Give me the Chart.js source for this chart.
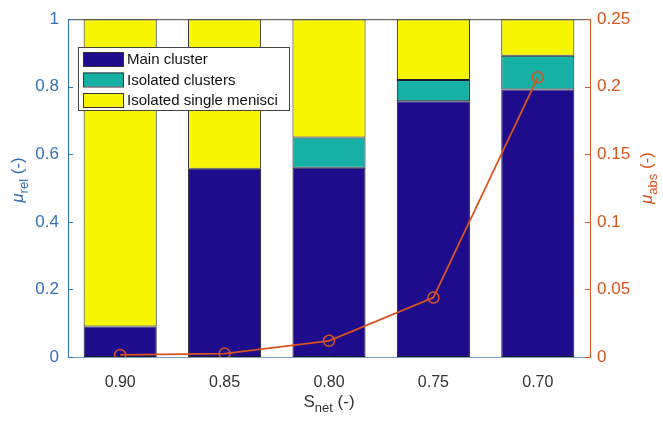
<!DOCTYPE html>
<html>
<head>
<meta charset="utf-8">
<script src="https://cdn.jsdelivr.net/npm/chart.js@4/dist/chart.umd.min.js"></script>
<style>
  html, body { margin: 0; padding: 0; background: #fff; }
  #wrap { width: 663px; height: 422px; }
</style>
</head>
<body>
<div id="wrap"><canvas id="chart" width="663" height="422"></canvas></div>
<script>
// data
const categories = ['0.90', '0.85', '0.80', '0.75', '0.70'];
const mainCluster = [0.09, 0.557, 0.56, 0.757, 0.792];
const isolatedClusters = [0, 0, 0.09, 0.063, 0.10];
const singleMenisci = [0.91, 0.443, 0.35, 0.18, 0.108];
const muAbs = [0.0015, 0.0025, 0.012, 0.044, 0.207];
const seriesNames = ['Main cluster', 'Isolated clusters', 'Isolated single menisci'];

const blueAxis = '#3470b6';
const redAxis = '#d9531e';
const font = 'Liberation Sans, Arial, sans-serif';

// axis titles, inward ticks, top frame and legend drawn on the canvas
const extras = {
  id: 'extras',
  afterDatasetsDraw(chart) {
    const ctx = chart.ctx;
    const a = chart.chartArea;
    const y = chart.scales.y, y2 = chart.scales.y2;
    ctx.save();
    // top frame
    ctx.strokeStyle = '#444';
    ctx.lineWidth = 1;
    ctx.beginPath();
    ctx.moveTo(a.left, a.top + 0.5);
    ctx.lineTo(a.right, a.top + 0.5);
    ctx.stroke();
    // inward ticks
    ctx.strokeStyle = blueAxis;
    y.ticks.forEach(t => {
      const p = Math.round(y.getPixelForValue(t.value)) + 0.5;
      ctx.beginPath(); ctx.moveTo(a.left, p); ctx.lineTo(a.left + 5, p); ctx.stroke();
    });
    ctx.strokeStyle = redAxis;
    y2.ticks.forEach(t => {
      const p = Math.round(y2.getPixelForValue(t.value)) + 0.5;
      ctx.beginPath(); ctx.moveTo(a.right, p); ctx.lineTo(a.right - 5, p); ctx.stroke();
    });

    // legend
    const lx = 78, ly = 47, lw = 211, lh = 63;
    ctx.fillStyle = '#fff';
    ctx.fillRect(lx, ly, lw, lh);
    ctx.strokeStyle = '#444';
    ctx.strokeRect(lx + 0.5, ly + 0.5, lw, lh);
    ctx.font = '15px ' + font;
    ctx.textBaseline = 'middle';
    chart.data.datasets.filter(ds => ds.type !== 'line').forEach((ds, i) => {
      const ry = ly + 12 + i * 20.5;
      ctx.fillStyle = ds.backgroundColor;
      ctx.fillRect(lx + 5, ry - 7, 40, 14);
      ctx.strokeStyle = '#333';
      ctx.strokeRect(lx + 5.5, ry - 6.5, 40, 14);
      ctx.fillStyle = '#111';
      ctx.fillText(ds.label, lx + 49, ry + 1);
    });
    ctx.restore();
  },
  afterDraw(chart) {
    const ctx = chart.ctx;
    ctx.save();
    function sub(x, yy, rot, main, s, tail, color) {
      ctx.save();
      ctx.translate(x, yy);
      ctx.rotate(rot);
      ctx.fillStyle = color;
      ctx.textBaseline = 'alphabetic';
      const f1 = (main === 'μ' ? 'italic ' : '') + '17px ' + font;
      const f2 = '13px ' + font;
      const f3 = '17px ' + font;
      ctx.font = f1; const w1 = ctx.measureText(main).width;
      ctx.font = f2; const w2 = ctx.measureText(s).width;
      ctx.font = f3; const w3 = ctx.measureText(tail).width;
      let cx = -(w1 + w2 + w3) / 2;
      ctx.font = f1; ctx.fillText(main, cx, 6); cx += w1;
      ctx.font = f2; ctx.fillText(s, cx, 11); cx += w2;
      ctx.font = f3; ctx.fillText(tail, cx, 6);
      ctx.restore();
    }
    sub(17, 180, -Math.PI / 2, 'μ', 'rel', ' (-)', blueAxis);
    sub(646, 178, -Math.PI / 2, 'μ', 'abs', ' (-)', redAxis);
    sub(329, 401, 0, 'S', 'net', ' (-)', '#333');
    ctx.restore();
  }
};

new Chart(document.getElementById('chart'), {
  type: 'bar',
  data: {
    labels: categories,
    datasets: [
      { type: 'line', label: 'mu_abs', data: muAbs, yAxisID: 'y2', order: 0,
        borderColor: '#d9531e', borderWidth: 1.8, backgroundColor: 'rgba(0,0,0,0)',
        pointRadius: 5.5, pointBorderWidth: 1.5, pointBackgroundColor: 'rgba(0,0,0,0)',
        pointBorderColor: '#d9531e', tension: 0 },
      { label: seriesNames[0], data: mainCluster, backgroundColor: '#1f0c8c', borderColor: '#1a1a2a', borderWidth: 1, order: 1 },
      { label: seriesNames[1], data: isolatedClusters, backgroundColor: '#17b0a4', borderColor: '#1a1a2a', borderWidth: 1, order: 1 },
      { label: seriesNames[2], data: singleMenisci, backgroundColor: '#f7f500', borderColor: '#1a1a2a', borderWidth: 1, order: 1 }
    ].map(d => d.type ? d : Object.assign(d, { barPercentage: 0.7, categoryPercentage: 1, borderSkipped: false }))
  },
  options: {
    responsive: false,
    animation: false,
    layout: { padding: { top: 10 } },
    plugins: { legend: { display: false }, tooltip: { enabled: false } },
    scales: {
      x: {
        stacked: true,
        grid: { display: false, drawTicks: false },
        border: { color: '#7f9cc0' },
        ticks: { color: '#333', font: { family: font, size: 16 }, padding: 16 },
        afterFit(s) { s.height = 65; }
      },
      y: {
        stacked: true, position: 'left', min: 0, max: 1,
        grid: { display: false, drawTicks: false },
        border: { color: blueAxis },
        ticks: { stepSize: 0.2, color: blueAxis, font: { family: font, size: 17 }, padding: 9,
                 callback: v => String(+v.toFixed(2)) },
        afterFit(s) { s.width = 68; }
      },
      y2: {
        stacked: false, position: 'right', min: 0, max: 0.25,
        grid: { display: false, drawTicks: false },
        border: { color: redAxis },
        ticks: { stepSize: 0.05, color: redAxis, font: { family: font, size: 17 }, padding: 7,
                 callback: v => String(+v.toFixed(2)) },
        afterFit(s) { s.width = 73; }
      }
    }
  },
  plugins: [extras]
});
</script>
</body>
</html>
